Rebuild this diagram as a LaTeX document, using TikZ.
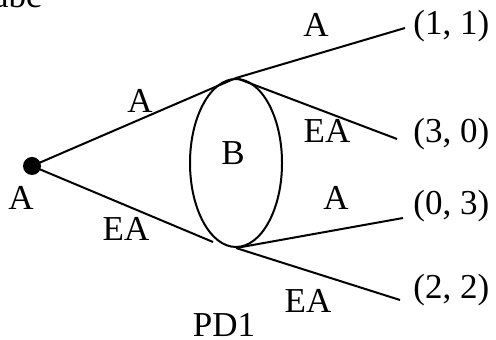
\documentclass[tikz,border=0pt]{standalone}
\usepackage{fontspec}
\setmainfont{Liberation Serif}
\usetikzlibrary{shapes.geometric}
\begin{document}
\begin{tikzpicture}[x=0.5pt,y=-0.5pt,
  lbl/.style={font=\fontsize{17.5}{21}\selectfont, inner sep=0pt, anchor=base},
  pay/.style={lbl, anchor=base west},
  edge/.style={line width=1pt}]
\useasboundingbox (0,0) rectangle (496,340);
% root
\node[circle, fill, inner sep=0pt, minimum size=9pt] (root) at (32,166) {};
% information set ellipse
\node[ellipse, draw, line width=1pt, minimum width=46pt, minimum height=84pt, inner sep=0pt] (B) at (236,163) {};
\node[lbl] (Blbl) at (233,165) {B};
% ends
\coordinate (low) at (213,242);
\coordinate (e1) at (405,28);
\coordinate (e2) at (397,139);
\coordinate (e3) at (403,218);
\coordinate (e4) at (400,300);
% edges
\draw[edge] (root.center) -- (B.north);
\draw[edge] (root.center) -- (low);
\draw[edge] (B.north) -- (e1);
\draw[edge] (B.north) -- (e2);
\draw[edge] (B.south) -- (e3);
\draw[edge] (B.south) -- (e4);
% labels
\node[lbl] (la1) at (140,113) {A};
\node[lbl] (la2) at (126,241) {EA};
\node[lbl] (lroot) at (21,210) {A};
\node[lbl] (lb1) at (316,37) {A};
\node[lbl] (lb2) at (327,143) {EA};
\node[lbl] (lb3) at (336,210) {A};
\node[lbl] (lb4) at (308,313) {EA};
\node[pay] (p1) at (413,35) {(1, 1)};
\node[pay] (p2) at (413,143) {(3, 0)};
\node[pay] (p3) at (413,215) {(0, 3)};
\node[pay] (p4) at (413,299) {(2, 2)};
\node[lbl] (pd) at (224,337) {PD1};
\node[lbl, anchor=base east] (abc) at (42,8) {abc};
\end{tikzpicture}
\end{document}
